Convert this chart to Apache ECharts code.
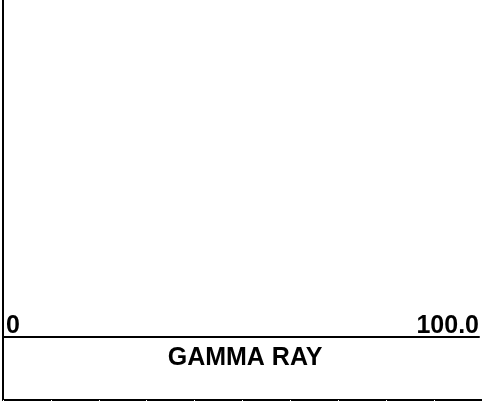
<!DOCTYPE html>
<html>
<head>
<meta charset="utf-8">
<script src="https://cdn.jsdelivr.net/npm/echarts@6/dist/echarts.min.js"></script>
<style>html,body{margin:0;padding:0;background:#fff}#c{width:482px;height:402px}</style>
</head>
<body>
<div id="c"></div>
<script>
// Track header data
const curveName = 'GAMMA RAY';
const scaleMin = 0;
const scaleMax = 100;
const scaleLabels = ['0', '100.0'];
const gammaValues = []; // empty track

const chart = echarts.init(document.getElementById('c'), null, {renderer: 'canvas'});
const font = '"Liberation Sans", Arial, sans-serif';
chart.setOption({
  animation: false,
  backgroundColor: '#fff',
  title: {
    text: curveName, left: 240, top: 341, textAlign: 'center',
    textStyle: {fontFamily: font, fontWeight: 'bold', fontSize: 25, color: '#000'}
  },
  grid: [
    {left: 3, right: 0, top: 0, height: 337},
    {left: 3, right: 0, top: 337, height: 63}
  ],
  xAxis: [
    {
      gridIndex: 0, type: 'value', min: scaleMin, max: scaleMax, interval: scaleMax - scaleMin,
      axisLine: {show: true, lineStyle: {color: '#000', width: 2}},
      axisTick: {show: false}, splitLine: {show: false},
      axisLabel: {
        inside: true, margin: -2, color: '#000', fontFamily: font, fontWeight: 'bold', fontSize: 25,
        padding: [0, 0, 0, 3],
        alignMinLabel: 'left', alignMaxLabel: 'right', showMinLabel: true, showMaxLabel: true,
        formatter: (v) => v === scaleMin ? scaleLabels[0] : scaleLabels[1]
      }
    },
    {
      gridIndex: 1, type: 'value', min: scaleMin, max: scaleMax, interval: 10,
      axisLine: {show: true, lineStyle: {color: '#000', width: 2}},
      axisTick: {show: true, inside: false, length: 2, lineStyle: {color: '#fff', width: 1}},
      splitLine: {show: false}, axisLabel: {show: false}
    }
  ],
  yAxis: [
    {gridIndex: 0, type: 'value', min: 0, max: 1, axisLine: {show: true, lineStyle: {color: '#000', width: 2}},
     axisTick: {show: false}, axisLabel: {show: false}, splitLine: {show: false}},
    {gridIndex: 1, type: 'value', min: 0, max: 1, axisLine: {show: true, lineStyle: {color: '#000', width: 2}},
     axisTick: {show: false}, axisLabel: {show: false}, splitLine: {show: false}}
  ],
  series: [
    {type: 'line', xAxisIndex: 0, yAxisIndex: 0, data: gammaValues, showSymbol: false}
  ]
});
</script>
</body>
</html>
